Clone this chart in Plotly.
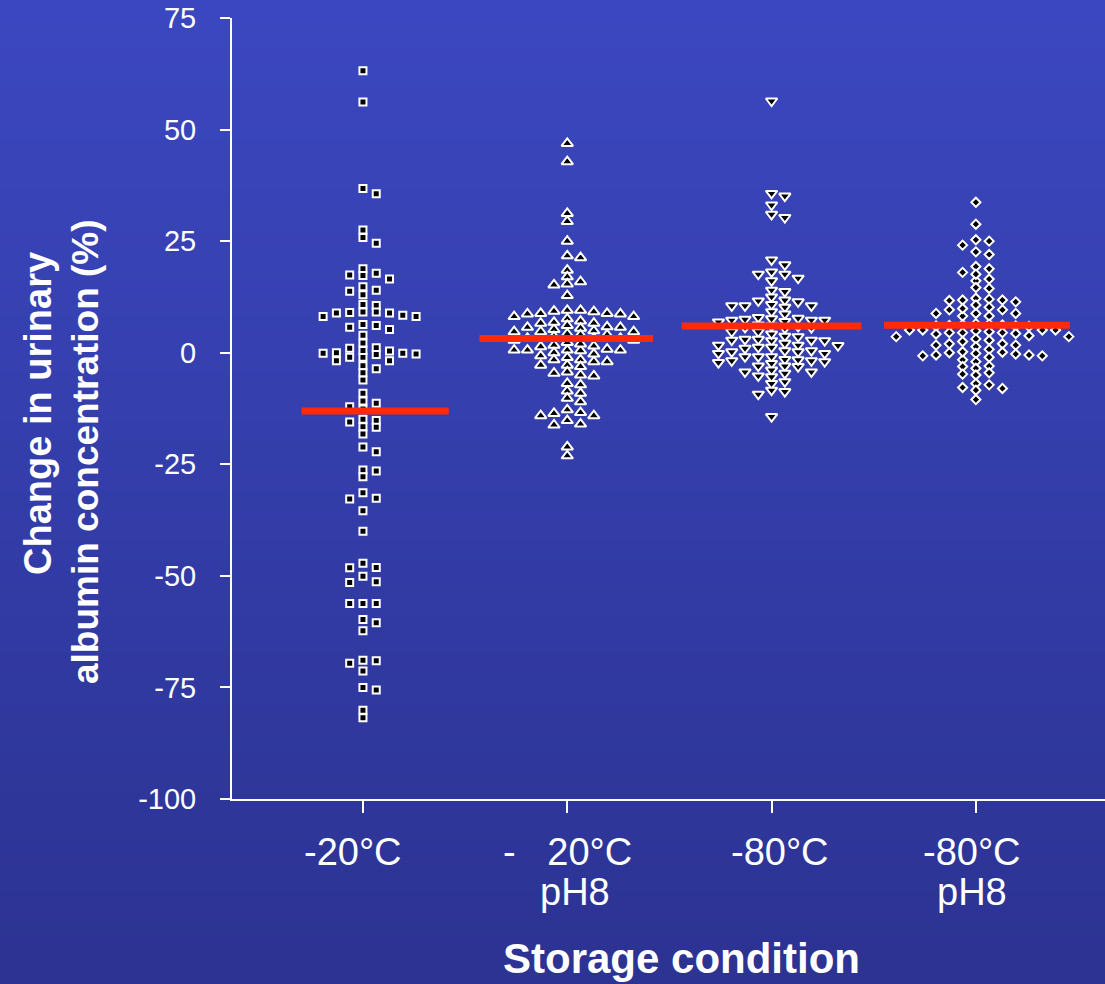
import numpy as np
import plotly.graph_objects as go

# ---- data: change in urinary albumin concentration (%) per storage condition ----
conditions = ["-20°C", "-20°C pH8", "-80°C", "-80°C pH8"]
label_line1 = ["-20°C", "-\u00a0\u00a0\u00a020°C", "-80°C", "-80°C"]
label_line2 = ["", "pH8", "", "pH8"]

change_m20 = [
    63.2, 56.2, 35.6, 36.8, 27.5, 25.8, 24.5, 18.8, 17.8, 17.3, 17.4, 16.5, 14.8, 13.0,
    14.0, 13.8, 10.8, 10.6, 9.1, 9.0, 8.4, 8.1, 8.1, 8.9, 8.9, 9.1, 6.1, 5.2, 5.7, 6.3,
    3.9, 2.2, 1.1, -0.3, 0.4, -1.0, 0.0, -1.8, -3.6, -0.1, -2.9, -6.1, -9.1, -0.1, -1.8,
    -4.5, 0.5, -1.0, 1.0, -0.4, -11.3, -10.8, -12.1, -12.6, -15.2, -16.6, -15.5, -14.9,
    -16.7, -18.2, -21.1, -22.2, -26.3, -27.8, -26.5, -32.6, -32.8, -31.4, -35.4, -40.0,
    -47.2, -48.2, -48.1, -50.1, -51.3, -51.5, -56.2, -56.2, -56.2, -60.5, -62.3, -59.8,
    -69.0, -71.3, -69.6, -68.9, -75.0, -75.6, -80.1, -81.8,
]
change_m20_ph8 = [
    46.9, 42.8, 31.2, 29.4, 25.0, 21.7, 21.3, 18.5, 17.0, 15.2, 15.9, 15.4, 12.8,
    9.5, 9.2, 8.8, 8.7, 8.1, 7.6, 8.1, 8.7, 8.8, 9.3, 9.5,
    7.1, 6.6, 6.1, 5.7, 5.5, 4.9, 5.2, 5.7, 5.8, 6.6, 6.8,
    4.0, 3.2, 2.8, 3.2, 2.8, 4.2, 4.7, 4.7, 4.7, 3.6, 3.2, 3.2, 4.0,
    1.35, 0.6, 0.6, 0.45, 1.7, 1.5, 1.95, 2.3, 0.6, 0.6, 0.8,
    -1.6, -2.0, -2.8, -0.3, -1.1, -0.7, 0.0, -2.0, -1.6,
    -4.6, -3.1, -5.2, -4.3, -2.8, -5.0,
    -7.2, -6.9, -8.6, -9.1, -11.0, -10.2,
    -13.6, -14.1, -13.4, -12.8, -14.1,
    -16.0, -16.2, -15.2,
    -21.1, -23.1,
]
change_m80 = [
    56.4, 35.7, 35.1, 33.1, 31.0, 30.3,
    20.8, 19.7, 18.1, 17.6, 16.7, 16.1, 17.6,
    14.0, 13.7, 12.5, 11.8, 11.4, 11.6, 10.5, 10.5, 10.5, 10.8, 10.2,
    9.2, 8.7, 7.9, 7.7, 7.5, 7.6,
    7.3, 7.3, 6.9, 7.0, 7.3, 6.2,
    6.0, 5.7, 5.5, 5.6, 5.9,
    4.7, 3.7, 3.0, 3.0, 2.7, 2.7, 2.8, 2.8, 3.6, 4.2, 4.7,
    2.1, 1.7, 1.7, 1.2, 1.0, 0.45, 0.45, -0.15, -0.15, 0.2, 0.2, 1.2, 1.6,
    -0.9, -0.9,
    -1.5, -1.8, -2.0, -2.4, -3.0, -3.1, -3.0, -2.2, -1.8, -1.6, -0.9,
    -3.9, -4.3, -5.2, -5.4, -4.6, -4.3,
    -6.9, -6.5, -8.7, -9.3, -8.4,
    -14.3,
]
change_m80_ph8 = [
    33.7, 28.8, 25.3, 24.1, 25.0, 22.0, 22.6,
    19.3, 18.0, 16.1, 17.6, 18.8, 16.5,
    14.4, 14.6,
    12.2, 11.8, 11.7, 11.4, 11.8, 12.0,
    10.2, 9.6, 8.8, 8.8, 8.2, 8.2, 8.8, 9.6, 9.9, 10.7,
    6.5, 6.2, 6.0, 6.3, 5.9, 6.1, 6.4, 6.0,
    5.1, 4.5, 4.5, 4.3, 5.1, 4.2, 4.5, 4.7, 4.9, 5.1, 5.1,
    3.6, 2.8, 3.6, 2.5, 3.1, 3.8,
    2.0, 1.7, 0.75, 1.35, 1.7, 2.0,
    0.1, -0.15, -0.5, -0.7, -1.0, -1.6, -0.7, -0.5, -0.3, 0.0, 0.2,
    -3.1, -2.0, -3.0, -3.5,
    -4.8, -4.5, -5.0,
    -6.9, -8.0, -7.2, -8.4, -7.8,
    -10.5,
]
series = [change_m20, change_m20_ph8, change_m80, change_m80_ph8]

y_ticks = [-100, -75, -50, -25, 0, 25, 50, 75]
y_tick_text = ["-100", "-75", "-50", "-25", "0", "25", "50", "75"]

# ---- styling ----
symbols = ["square", "triangle-up", "triangle-down", "diamond"]
sizes = [7, 10, 10, 7]
mean_spans = [(-0.30, 0.42), (-0.43, 0.42), (-0.44, 0.44), (-0.45, 0.46)]
COL_W = 0.065      # horizontal step between swarm columns (x units)
MIN_GAP = 1.5      # vertical clearance between markers in one column (y units)

W, H = 1105, 984
L, R, T, B = 232, 0, 18, 185
X_RANGE = [-0.641, 3.632]
Y_RANGE = [-100, 75]


def swarm_offsets(values, min_gap, step):
    """Greedy beeswarm: fill columns 0, +1, -1, +2, -2 ... top to bottom."""
    vals = np.asarray(values, dtype=float)
    order = np.argsort(-vals, kind="stable")
    columns = {}
    offs = np.zeros(len(vals))
    for i in order:
        v = vals[i]
        k = 0
        chosen = None
        while chosen is None:
            cands = [0] if k == 0 else [k, -k]
            for c in cands:
                if all(abs(v - y) >= min_gap for y in columns.get(c, [])):
                    chosen = c
                    break
            k += 1
        columns.setdefault(chosen, []).append(v)
        offs[i] = chosen * step
    return offs


fig = go.Figure()

for gi, vals in enumerate(series):
    xs = gi + swarm_offsets(vals, MIN_GAP, COL_W)
    fig.add_trace(go.Scatter(
        x=xs, y=vals, mode="markers", cliponaxis=False, showlegend=False,
        name=conditions[gi],
        marker=dict(symbol=symbols[gi], size=sizes[gi], color="black",
                    line=dict(color="white", width=2)),
    ))

# mean lines drawn above the points
for gi, vals in enumerate(series):
    m = float(np.mean(vals))
    lo, hi = mean_spans[gi]
    fig.add_trace(go.Scatter(
        x=[gi + lo, gi + hi], y=[m, m], mode="lines", showlegend=False,
        line=dict(color="#ff2a0a", width=7), hoverinfo="skip",
    ))

# vertical gradient background
pw, ph = W - L - R, H - T - B
x0p, x1p = -L / pw, 1 + R / pw
ytop, ybot = (H - B) / ph, (H - B - H) / ph
top_rgb = np.array([60, 72, 193])
bot_rgb = np.array([44, 51, 146])
n_strips = 140
shapes = []
for k in range(n_strips):
    f = (k + 0.5) / n_strips
    c = top_rgb + (bot_rgb - top_rgb) * f
    ya = ytop - (ytop - ybot) * k / n_strips
    yb = ytop - (ytop - ybot) * (k + 1) / n_strips
    shapes.append(dict(type="rect", xref="paper", yref="paper", layer="below",
                       x0=x0p, x1=x1p, y0=yb - 0.001, y1=ya + 0.001,
                       line=dict(width=0),
                       fillcolor=f"rgb({int(c[0])},{int(c[1])},{int(c[2])})"))

annotations = []
label_font = dict(family="Liberation Sans Narrow, Arial Narrow, Liberation Sans, Arial",
                  size=38, color="white")
label_x = [-0.05, 1.0, 2.04, 2.98]
for gi in range(len(conditions)):
    annotations.append(dict(x=label_x[gi], y=(H - B - 852) / ph, xref="x", yref="paper",
                            text=label_line1[gi], showarrow=False, font=label_font,
                            xanchor="center", yanchor="middle"))
    if label_line2[gi]:
        annotations.append(dict(x=label_x[gi] + (0.04 if gi == 1 else 0),
                                y=(H - B - 892) / ph, xref="x", yref="paper",
                                text=label_line2[gi], showarrow=False, font=label_font,
                                xanchor="center", yanchor="middle"))

title_font = dict(family="Liberation Sans, Arial", size=37, color="white")
annotations.append(dict(x=(38 - L) / pw, y=(H - B - 414) / ph, xref="paper", yref="paper",
                        text="<b>Change in urinary</b>", textangle=-90, showarrow=False,
                        font=dict(family="Liberation Sans, Arial", size=38, color="white"),
                        xanchor="center", yanchor="middle"))
annotations.append(dict(x=(85 - L) / pw, y=(H - B - 452) / ph, xref="paper", yref="paper",
                        text="<b>albumin concentration (%)</b>", textangle=-90, showarrow=False,
                        font=title_font, xanchor="center", yanchor="middle"))
annotations.append(dict(x=(681 - L) / pw, y=(H - B - 958) / ph, xref="paper", yref="paper",
                        text="<b>Storage condition</b>", showarrow=False,
                        font=dict(family="Liberation Sans, Arial", size=42, color="white"),
                        xanchor="center", yanchor="middle"))

fig.update_layout(
    width=W, height=H,
    margin=dict(l=L, r=R, t=T, b=B, pad=0),
    paper_bgcolor="rgb(52,61,170)",
    plot_bgcolor="rgba(0,0,0,0)",
    shapes=shapes,
    annotations=annotations,
    xaxis=dict(range=X_RANGE, showgrid=False, zeroline=False, showline=True,
               linecolor="white", linewidth=2, ticks="outside", ticklen=12,
               tickwidth=2, tickcolor="white", tickvals=[0, 1, 2, 3],
               showticklabels=False, fixedrange=True),
    yaxis=dict(range=Y_RANGE, showgrid=False, zeroline=False, showline=True,
               linecolor="white", linewidth=2, ticks="outside", ticklen=10,
               tickwidth=2, tickcolor="white", tickvals=y_ticks, ticktext=y_tick_text,
               ticklabelstandoff=18,
               tickfont=dict(family="Liberation Sans, Arial", size=29, color="white"),
               fixedrange=True),
)

fig.write_html("out.html")
